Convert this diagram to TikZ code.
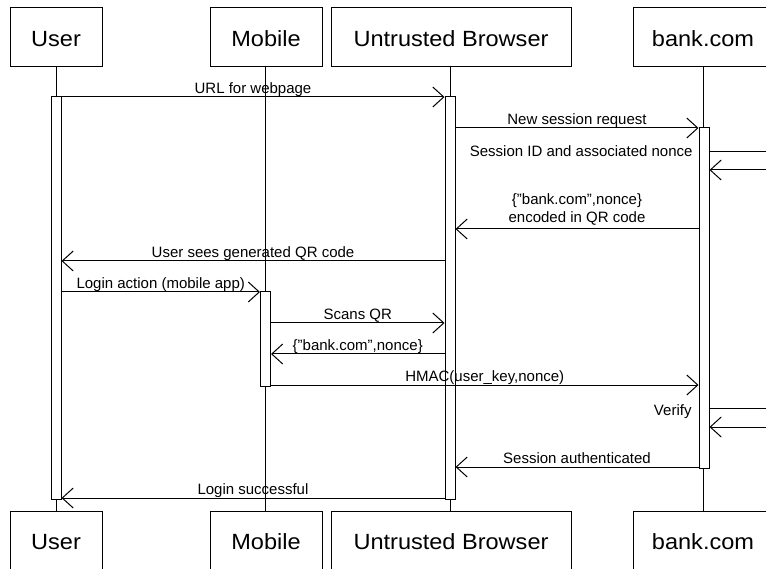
\documentclass[tikz,border=0pt]{standalone}
\usepackage{fontspec}
\setmainfont{Liberation Sans}
\newfontfamily\actorfont[FakeStretch=1.07]{Liberation Sans}
\usetikzlibrary{arrows.meta}
\begin{document}
\begin{tikzpicture}[x=1pt,y=-1pt, line width=1pt,
  actor/.style={draw, fill=white, minimum height=59pt, inner sep=0pt, text height=18pt, text depth=0pt, font=\actorfont\fontsize{22}{26}\selectfont},
  act/.style={draw, fill=white, minimum width=10pt, inner sep=0pt},
  msg/.style={-{Straight Barb[length=11pt,width=20pt]}},
  lbl/.style={font=\fontsize{15}{18}\selectfont, inner sep=0pt, anchor=base, yshift=3.5pt},
  lblr/.style={font=\fontsize{15}{18}\selectfont, inner sep=0pt, anchor=base east},
]
\clip (0,0) rectangle (766,569);
\fill[white] (0,0) rectangle (766,569);

% actors (top)
\node[actor, minimum width=92pt]  (u1) at (56,37.5)  {User};
\node[actor, minimum width=112pt] (m1) at (266,37.5) {Mobile};
\node[actor, minimum width=240pt] (b1) at (451,37.5) {Untrusted Browser};
\node[actor, minimum width=140pt] (k1) at (703,37.5) {bank.com};
% actors (bottom)
\node[actor, minimum width=92pt]  (u2) at (56,540.5)  {User};
\node[actor, minimum width=112pt] (m2) at (266,540.5) {Mobile};
\node[actor, minimum width=240pt] (b2) at (451,540.5) {Untrusted Browser};
\node[actor, minimum width=140pt] (k2) at (703,540.5) {bank.com};

% lifelines
\draw (u1.south -| 56,0) -- (u2.north -| 56,0);
\draw (m1.south -| 265,0) -- (m2.north -| 265,0);
\draw (b1.south -| 450,0) -- (b2.north -| 450,0);
\draw (k1.south -| 703,0) -- (k2.north -| 703,0);

% activation bars
\node[act, minimum height=402pt] (ua) at (56,298) {};
\node[act, minimum height=402pt] (ba) at (450,298) {};
\node[act, minimum height=340pt] (ka) at (704,298) {};
\node[act, minimum height=94pt]  (ma) at (265.5,339) {};

% messages
\draw[msg] (ua.east |- 0,97) -- node[lbl, midway] {URL for webpage} (ba.west |- 0,97);
\draw[msg] (ba.east |- 0,128) -- node[lbl, midway] {New session request} (ka.west |- 0,128);
\coordinate (s1) at (790,152);
\coordinate (s2) at (790,170);
\draw[msg] (ka.east |- s1) -- (s1) -- (s2) -- (ka.east |- s2);
\node[lblr] (sl) at (693,157) {Session ID and associated nonce};
\draw[msg] (ka.west |- 0,229) -- node[midway, anchor=south, yshift=3.5pt, inner sep=0pt, align=center, font=\fontsize{15}{18}\selectfont] {\{"bank.com",nonce\}\\encoded in QR code} (ba.east |- 0,229);
\draw[msg] (ba.west |- 0,261) -- node[lbl, midway] {User sees generated QR code} (ua.east |- 0,261);
\draw[msg] (ua.east |- 0,292) -- node[lbl, midway] {Login action (mobile app)} (ma.west |- 0,292);
\draw[msg] (ma.east |- 0,323) -- node[lbl, midway] {Scans QR} (ba.west |- 0,323);
\draw[msg] (ba.west |- 0,354) -- node[lbl, midway] {\{"bank.com",nonce\}} (ma.east |- 0,354);
\draw[msg] (ma.east |- 0,385) -- node[lbl, midway] {HMAC(user\_key,nonce)} (ka.west |- 0,385);
\coordinate (v1) at (790,408);
\coordinate (v2) at (790,427);
\draw[msg] (ka.east |- v1) -- (v1) -- (v2) -- (ka.east |- v2);
\node[lblr] (vl) at (692,415) {Verify};
\draw[msg] (ka.west |- 0,467) -- node[lbl, midway] {Session authenticated} (ba.east |- 0,467);
\draw[msg] (ba.west |- 0,498) -- node[lbl, midway] {Login successful} (ua.east |- 0,498);
\end{tikzpicture}
\end{document}
